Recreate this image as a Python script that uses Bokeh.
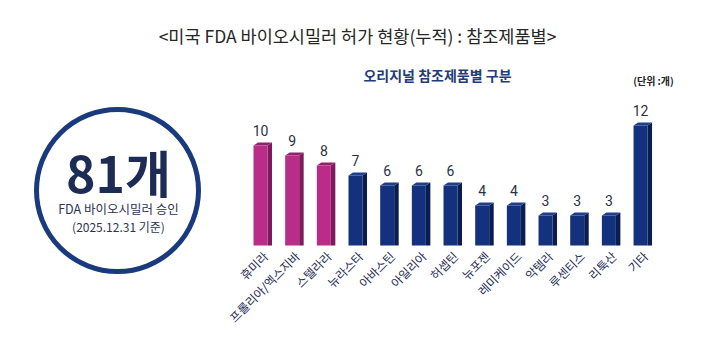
import math
from bokeh.plotting import figure
from bokeh.models import Range1d, Label, ColumnDataSource
from bokeh.core.properties import value
from bokeh.embed import file_html
from bokeh.resources import INLINE

# ---- data ----
categories = ["휴미라", "프롤리아/엑스지바", "스텔라라", "뉴라스타", "아바스틴", "아일리아",
              "허셉틴", "뉴포젠", "레미케이드", "악템라", "루센티스", "리툭산", "기타"]
counts = [10, 9, 8, 7, 6, 6, 6, 4, 4, 3, 3, 3, 12]
highlight = [True, True, True, False, False, False, False, False, False, False, False, False, False]
total_text = "81개"
title_text = "<미국 FDA 바이오시밀러 허가 현황(누적) : 참조제품별>"
subtitle_text = "오리지널 참조제품별 구분"
unit_text = "(단위 :개)"
circle_line1 = "FDA 바이오시밀러 승인"
circle_line2 = "(2025.12.31 기준)"

W, H = 711, 341
px_per_x = 31.67
px_per_y = 10.0
x0_px = 260.0
y0_px = 96.0  # from bottom

x_start = -x0_px / px_per_x
y_start = -y0_px / px_per_y

p = figure(width=W, height=H, output_backend="svg", toolbar_location=None,
           x_range=Range1d(x_start, x_start + W / px_per_x),
           y_range=Range1d(y_start, y_start + H / px_per_y),
           min_border=0, outline_line_color=None)
p.axis.visible = False
p.grid.visible = False
p.background_fill_color = "white"
p.border_fill_color = "white"

FONT = "Noto Sans CJK KR"

mag_front, mag_side, mag_top = "#b92d88", "#7d1a5b", "#96206f"
nav_front, nav_side, nav_top = "#13317c", "#0a1d4f", "#1e3e8e"

xs = list(range(len(categories)))
bw = 14 / px_per_x
dx = 4.5 / px_per_x
dy = 3.0 / px_per_y

fronts = [mag_front if h else nav_front for h in highlight]
sides = [mag_side if h else nav_side for h in highlight]
tops = [mag_top if h else nav_top for h in highlight]

side_x, side_y, top_x, top_y = [], [], [], []
for x, v in zip(xs, counts):
    xl, xr = x - bw / 2, x + bw / 2
    side_x.append([xr, xr + dx, xr + dx, xr])
    side_y.append([0, 0, v + dy, v])
    top_x.append([xl, xl + dx, xr + dx, xr])
    top_y.append([v, v + dy, v + dy, v])

p.patches(side_x, side_y, fill_color=sides, line_color=None)
p.patches(top_x, top_y, fill_color=tops, line_color=None)
p.vbar(x=xs, top=counts, bottom=0, width=bw, fill_color=fronts, line_color=None)

# value labels
src = ColumnDataSource(dict(x=xs, y=[c + 1.0 for c in counts], t=[str(c) for c in counts],
                            cat=categories, lx=[x + 0.15 for x in xs], ly=[-0.8] * len(xs)))
p.text(x="x", y="y", text="t", source=src, text_align="center", text_baseline="bottom",
       text_font=value("Roboto"), text_font_size="14px", text_color="#2b3245")

# category labels rotated
p.text(x="lx", y="ly", text="cat", source=src, angle=math.pi / 4, text_align="right",
       text_baseline="middle", text_font=value(FONT), text_font_size="12px",
       text_color="#1f2d58")

# circle
cx = x_start + 117 / px_per_x
cy = y_start + (H - 190) / px_per_y
p.scatter(x=[cx], y=[cy], size=162, marker="circle", fill_color=None,
          line_color="#1a3a7e", line_width=5)

def lbl(x, y, text, size, color, style="normal", align="center", font=FONT, baseline="middle"):
    p.add_layout(Label(x=x, y=y, x_units="screen", y_units="screen", text=text,
                       text_font=font, text_font_size=size, text_color=color,
                       text_font_style=style, text_align=align, text_baseline=baseline))

lbl(118, H - 170, total_text, "50px", "#1d2c55", "bold")
lbl(118, H - 208, circle_line1, "12.5px", "#2c3552")
lbl(118, H - 226, circle_line2, "12px", "#2c3552")

lbl(357, H - 35, title_text, "17.5px", "#262626")
lbl(437, H - 74, subtitle_text, "14px", "#1f3d7a", "bold")
lbl(653, H - 80, unit_text, "10px", "#222222", "bold")

open("out.html", "w").write(file_html(p, INLINE))
